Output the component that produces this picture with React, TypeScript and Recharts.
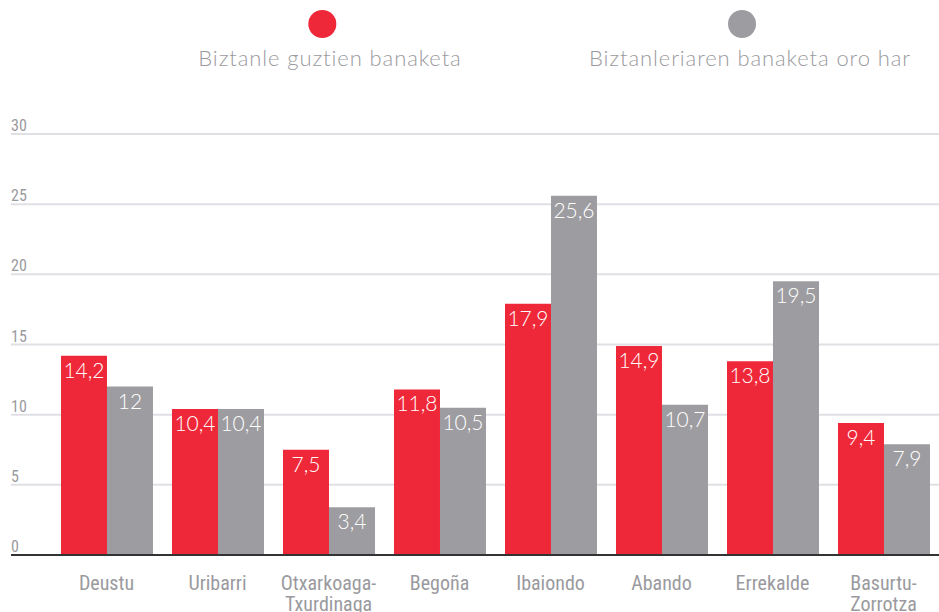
import { BarChart, Bar, XAxis, YAxis, CartesianGrid, LabelList } from "recharts";

const categories = [
  "Deustu",
  "Uribarri",
  "Otxarkoaga-Txurdinaga",
  "Begoña",
  "Ibaiondo",
  "Abando",
  "Errekalde",
  "Basurtu-Zorrotza",
];
const allPopulation = [14.2, 10.4, 7.5, 11.8, 17.9, 14.9, 13.8, 9.4];
const generalPopulation = [12, 10.4, 3.4, 10.5, 25.6, 10.7, 19.5, 7.9];
const yTicks = [0, 5, 10, 15, 20, 25, 30];

const seriesNames = ["Biztanle guztien banaketa", "Biztanleriaren banaketa oro har"];

const RED = "#ef2839";
const GRAY = "#9d9ca0";
const TEXT_GRAY = "#9a9a9e";
const NARROW = "'Liberation Sans Narrow', 'Arial Narrow', 'Roboto Condensed', sans-serif";
const ROUND = "Lato, 'Open Sans', sans-serif";

const data = categories.map((name, i) => ({
  name,
  all: allPopulation[i],
  general: generalPopulation[i],
}));

const PLOT_LEFT = 11;

const fmt = (v: any) => String(v).replace(".", ",");

function XTick(props: any) {
  const { x, y, payload } = props;
  const label: string = payload.value;
  const idx = label.indexOf("-");
  const lines = idx >= 0 ? [label.slice(0, idx + 1), label.slice(idx + 1)] : [label];
  return (
    <g>
      {lines.map((l, i) => (
        <text
          key={i}
          x={x}
          y={y + 27 + i * 21}
          textAnchor="middle"
          fill={TEXT_GRAY}
          fontSize={20}
          fontFamily={NARROW}
        >
          {l}
        </text>
      ))}
    </g>
  );
}

function YTick(props: any) {
  const { y, payload } = props;
  return (
    <text x={PLOT_LEFT} y={y - 3} textAnchor="start" fill={TEXT_GRAY} fontSize={16} fontFamily={NARROW}>
      {payload.value}
    </text>
  );
}

function LegendBlock() {
  const colors = [RED, GRAY];
  const centers = [330, 750];
  return (
    <>
      {seriesNames.map((name, i) => (
        <div
          key={name}
          style={{
            position: "absolute",
            left: centers[i],
            top: 10,
            transform: "translateX(-50%)",
            display: "flex",
            flexDirection: "column",
            alignItems: "center",
            whiteSpace: "nowrap",
          }}
        >
          <div style={{ width: 28, height: 28, borderRadius: 14, background: colors[i], marginLeft: -16 }} />
          <div
            style={{
              marginTop: 7,
              fontFamily: ROUND,
              fontWeight: 300,
              fontSize: 22,
              letterSpacing: 0.9,
              color: TEXT_GRAY,
              lineHeight: "26px",
            }}
          >
            {name}
          </div>
        </div>
      ))}
    </>
  );
}

export default function App() {
  return (
    <div style={{ position: "absolute", left: 0, top: 0, width: 939, height: 612, background: "#fff" }}>
      <BarChart
        width={939}
        height={612}
        data={data}
        margin={{ top: 134, right: 0, left: 0, bottom: 0 }}
        barCategoryGap="9%"
        barGap={0}
      >
        <CartesianGrid vertical={false} stroke="#e0dfe4" strokeWidth={2} />
        <XAxis
          dataKey="name"
          height={57}
          padding={{ left: 40, right: 0 }}
          tick={(p: any) => <XTick {...p} />}
          tickLine={false}
          axisLine={{ stroke: "#333", strokeWidth: 2 }}
          interval={0}
        />
        <YAxis
          width={PLOT_LEFT}
          domain={[0, 30]}
          ticks={yTicks}
          tick={(p: any) => <YTick {...p} />}
          tickLine={false}
          axisLine={false}
          interval={0}
        />
        <Bar dataKey="all" name={seriesNames[0]} fill={RED} isAnimationActive={false}>
          <LabelList
            dataKey="all"
            position="insideTop"
            offset={7}
            formatter={fmt}
            fill="#fff"
            fontSize={21}
            fontFamily={ROUND}
            fontWeight={300}
          />
        </Bar>
        <Bar dataKey="general" name={seriesNames[1]} fill={GRAY} isAnimationActive={false}>
          <LabelList
            dataKey="general"
            position="insideTop"
            offset={7}
            formatter={fmt}
            fill="#fff"
            fontSize={21}
            fontFamily={ROUND}
            fontWeight={300}
          />
        </Bar>
      </BarChart>
      <LegendBlock />
    </div>
  );
}
